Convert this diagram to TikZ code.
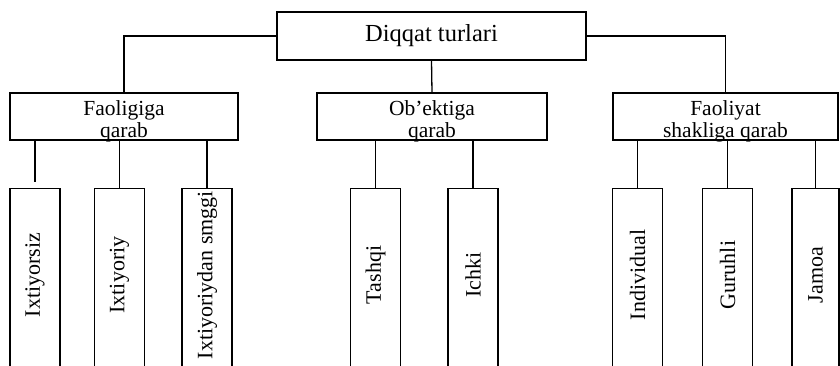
\documentclass[tikz,border=0pt]{standalone}
\usepackage{fontspec}
\setmainfont{Liberation Serif}
\begin{document}
\begin{tikzpicture}[x=1pt,y=-1pt,
  line width=1.3pt,
  topbox/.style={draw, minimum width=309pt, minimum height=48pt, inner sep=0pt,
    font=\fontsize{24.5}{26}\selectfont},
  midbox/.style={draw, minimum height=47pt, inner sep=0pt},
  midtext/.style={inner sep=0pt, align=center, yshift=-5pt,
    font=\fontsize{21.5}{22}\selectfont},
  leafbox/.style={draw, anchor=north, minimum width=50pt, minimum height=195pt, inner sep=0pt},
  vtext/.style={rotate=90, inner sep=0pt, font=\fontsize{22}{24}\selectfont},
  conn/.style={draw, line width=1.3pt}]
\useasboundingbox (0,0) rectangle (840,365);
\clip (0,0) rectangle (840,365);
\fill[white] (0,0) rectangle (840,365);

% top
\node[topbox] (top) at (431.5,36) {Diqqat turlari};

% second level
\node[midbox, minimum width=228pt] (f1) at (124,116.5) {};
\node[midbox, minimum width=230pt] (f2) at (432,116.5) {};
\node[midbox, minimum width=225pt] (f3) at (725.5,116.5) {};
\node[midtext] (f1t) at (f1) {Faoligiga\\qarab};
\node[midtext] (f2t) at (f2) {Ob’ektiga\\qarab};
\node[midtext] (f3t) at (f3) {Faoliyat\\shakliga qarab};

\draw[conn] (top.west) -| (f1.north);
\draw[conn] (top.south) -- (f2.north);
\draw[conn] (top.east) -| (f3.north);

% leaves
\node[leafbox] (a1) at (35,188) {};
\node[leafbox] (a2) at (119.5,188) {};
\node[leafbox] (a3) at (207,188) {};
\node[leafbox] (b1) at (375.5,188) {};
\node[leafbox] (b2) at (473,188) {};
\node[leafbox] (c1) at (637.5,188) {};
\node[leafbox] (c2) at (727.5,188) {};
\node[leafbox, minimum width=47pt] (c3) at (815.5,188) {};

\node[vtext] (a1t) at (35,275) {Ixtiyorsiz};
\node[vtext] (a2t) at (119.5,275) {Ixtiyoriy};
\node[vtext] (a3t) at (207,275) {Ixtiyoriydan smggi};
\node[vtext] (b1t) at (375.5,275) {Tashqi};
\node[vtext] (b2t) at (473,275) {Ichki};
\node[vtext] (c1t) at (637.5,275) {Individual};
\node[vtext] (c2t) at (727.5,275) {Guruhli};
\node[vtext] (c3t) at (815.5,275) {Jamoa};

\draw[conn, shorten >=6pt] (a1.north |- f1.south) -- (a1.north);
\draw[conn] (a2.north |- f1.south) -- (a2.north);
\draw[conn] (a3.north |- f1.south) -- (a3.north);
\draw[conn] (b1.north |- f2.south) -- (b1.north);
\draw[conn] (b2.north |- f2.south) -- (b2.north);
\draw[conn] (c1.north |- f3.south) -- (c1.north);
\draw[conn] (c2.north |- f3.south) -- (c2.north);
\draw[conn] (c3.north |- f3.south) -- (c3.north);
\end{tikzpicture}
\end{document}
